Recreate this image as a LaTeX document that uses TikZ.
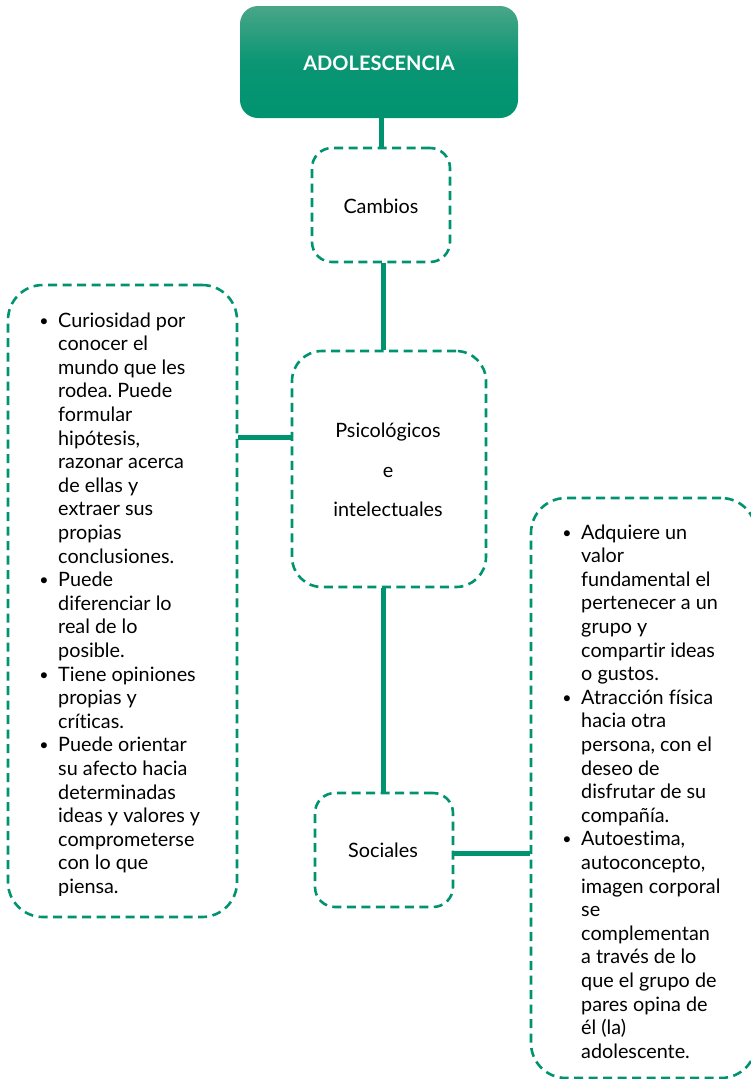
\documentclass[tikz,border=0pt]{standalone}
\usepackage{fontspec}
\setmainfont{Lato}[Ligatures=NoCommon]
\frenchspacing
\definecolor{teal}{RGB}{0,147,112}
\definecolor{tealtop}{RGB}{72,166,136}
\tikzset{
  box/.style={draw=teal, line width=2.6pt, dash pattern=on 9pt off 5.5pt, rounded corners=#1, inner sep=0pt},
  link/.style={draw=teal, line width=5pt},
  txt/.style={inner sep=0pt, anchor=base west, font=\fontsize{19.8}{23.6}\selectfont},
  bul/.style={inner sep=0pt, anchor=base, font=\fontsize{16}{20}\selectfont},
  ctr/.style={inner sep=0pt, anchor=base, font=\fontsize{19.8}{23.6}\selectfont},
}
% a bulleted block of hand-broken lines: tag, bullet x, text x, first baseline y, lines
\newcommand\itemlines[5]{%
  \node[bul] (#1-b) at (#2,{#4-1}) {\textbullet};
  \foreach \t [count=\i from 0] in {#5} {
    \node[txt] (#1-\i) at (#3,{#4+23.6*\i}) {\t};
  }%
}
\begin{document}
\begin{tikzpicture}[x=1pt,y=-1pt]
\useasboundingbox (0,0) rectangle (750,1079);

% header
\node[rounded corners=18pt, top color=tealtop, bottom color=teal, middle color=teal!85!tealtop,
      minimum width=278pt, minimum height=112pt, inner sep=0pt] (top) at (379,62) {};
\node[inner sep=0pt, anchor=base, text=white, font=\fontsize{20}{22}\selectfont\bfseries] (toptxt) at (379,70) {ADOLESCENCIA};

% category boxes
\node[box=20pt, minimum width=138pt, minimum height=114pt] (cambios) at (381,205) {};
\node[ctr] (cambiostxt) at (381,213) {Cambios};

\node[box=30pt, minimum width=194pt, minimum height=236pt] (psico) at (389,469) {};
\node[ctr] (psico1) at (388,437) {Psicológicos};
\node[ctr] (psico2) at (388,477) {e};
\node[ctr] (psico3) at (388,516) {intelectuales};

\node[box=20pt, minimum width=138pt, minimum height=114pt] (sociales) at (384,850) {};
\node[ctr] (socialestxt) at (383,857) {Sociales};

% detail boxes
\node[box=35pt, minimum width=229pt, minimum height=632pt] (left) at (122.5,601) {};
\node[box=35pt, minimum width=225pt, minimum height=580pt] (right) at (643.5,788) {};

% connectors
\draw[link] (top.south -| cambios.north) -- (cambios.north);
\draw[link] ([xshift=2pt]cambios.south) -- ([xshift=2pt]cambios.south |- psico.north);
\draw[link] ([xshift=-6pt]psico.south) -- ([xshift=-6pt]psico.south |- sociales.north) ++(0,-14);
\draw[link] (left.east |- 0,437) -- (psico.west |- 0,437);
\draw[link] (sociales.east |- 0,853) -- (right.west |- 0,853);

% left list, cut off at the lower text edge
\begin{scope}
\clip (8,285) rectangle (237,895);
\itemlines{L1}{44}{58}{327}{Curiosidad por,conocer el,mundo que les,rodea. Puede,formular,{hipótesis,},razonar acerca,de ellas y,extraer sus,propias,conclusiones.}
\itemlines{L2}{44}{58}{586.6}{Puede,diferenciar lo,real de lo,posible.}
\itemlines{L3}{44}{58}{681}{Tiene opiniones,propias y,críticas.}
\itemlines{L4}{44}{58}{751.8}{Puede orientar,su afecto hacia,determinadas,ideas y valores y,comprometerse,con lo que,piensa.}
\end{scope}

% right list, cut off at the lower text edge
\begin{scope}
\clip (531,498) rectangle (756,1059);
\itemlines{R1}{567}{581}{539}{Adquiere un,valor,fundamental el,pertenecer a un,grupo y,compartir ideas,o gustos.}
\itemlines{R2}{567}{581}{704.2}{Atracción física,hacia otra,{persona, con el},deseo de,disfrutar de su,compañía.}
\itemlines{R3}{567}{581}{845.8}{{Autoestima,},{autoconcepto,},imagen corporal,se,complementan,a través de lo,que el grupo de,pares opina de,él (la),adolescente.}
\end{scope}
\end{tikzpicture}
\end{document}
